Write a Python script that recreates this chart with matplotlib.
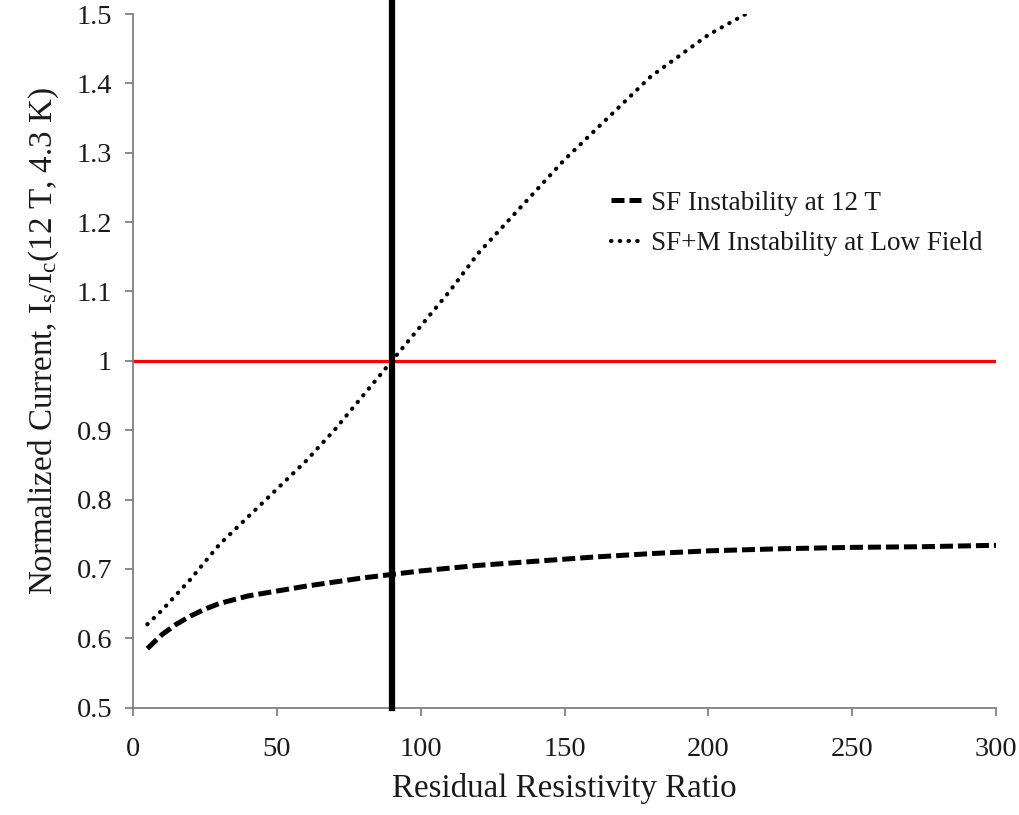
import matplotlib
matplotlib.use("Agg")
import matplotlib.pyplot as plt
from matplotlib.ticker import FuncFormatter, MultipleLocator

plt.rcParams['font.family'] = ['Liberation Serif', 'DejaVu Serif']
plt.rcParams['mathtext.fontset'] = 'custom'
plt.rcParams['mathtext.rm'] = 'Liberation Serif'
plt.rcParams['mathtext.it'] = 'Liberation Serif:italic'

# Data
rrr_sf = [5, 10, 15, 20, 25, 30, 40, 50, 60, 70, 80, 90, 100, 120, 140, 160, 180, 200, 225, 250, 275, 300]
sf_12T = [0.585, 0.605, 0.620, 0.632, 0.642, 0.650, 0.661, 0.668, 0.675, 0.681, 0.687, 0.692, 0.697,
          0.705, 0.711, 0.717, 0.722, 0.726, 0.729, 0.731, 0.732, 0.734]
rrr_sfm = [5, 10, 20, 30, 40, 50, 60, 70, 80, 90, 100, 110, 120, 130, 140, 150, 160, 170, 180, 190, 200, 213]
sfm_low = [0.620, 0.640, 0.685, 0.735, 0.775, 0.815, 0.855, 0.900, 0.950, 1.000, 1.050, 1.100, 1.155,
           1.200, 1.245, 1.290, 1.330, 1.370, 1.410, 1.440, 1.470, 1.500]
rrr_limit = 90
current_limit = 1.0
legend_labels = ["SF Instability at 12 T", "SF+M Instability at Low Field"]

fig = plt.figure(figsize=(10.19, 8.15), dpi=100)
ax = fig.add_axes([0.1305, 0.1318, 0.847, 0.851])

ax.plot(rrr_sf, sf_12T, color='black', lw=3.6, linestyle=(0, (2.6, 1.0)), label=legend_labels[0], zorder=3)
ax.plot(rrr_sfm, sfm_low, color='black', lw=3.0, linestyle=(0, (0.1, 2.0)), dash_capstyle='round',
        label=legend_labels[1], zorder=3)
ax.axhline(current_limit, color='#ff0000', lw=2.3, zorder=2)
ax.axvline(rrr_limit, ymin=0, ymax=1.03, color='black', lw=4.5, zorder=4, clip_on=False)

ax.set_xlim(0, 300)
ax.set_ylim(0.5, 1.5)
ax.xaxis.set_major_locator(MultipleLocator(50))
ax.yaxis.set_major_locator(MultipleLocator(0.1))
ax.yaxis.set_major_formatter(FuncFormatter(lambda v, p: '{:g}'.format(round(v, 2))))

for s in ['top', 'right']:
    ax.spines[s].set_visible(False)
for s in ['left', 'bottom']:
    ax.spines[s].set_color('#808080')
    ax.spines[s].set_linewidth(1.3)
ax.tick_params(axis='both', direction='out', length=6, width=1.3, color='#808080',
               labelsize=20.5, labelcolor='#1a1a1a')
ax.tick_params(axis='y', pad=9)
ax.tick_params(axis='x', pad=15)

ax.set_xlabel("Residual Resistivity Ratio", fontsize=23.8, labelpad=8, color='#1a1a1a')
ax.set_ylabel(r"Normalized Current, I$_\mathregular{s}$/I$_\mathregular{c}$(12 T, 4.3 K)",
              fontsize=23.8, color='#1a1a1a')
ax.yaxis.set_label_coords(-0.083, 0.528)

leg = ax.legend(loc='upper left', bbox_to_anchor=(0.526, 0.780), frameon=False, fontsize=19.5,
                handlelength=1.1, handletextpad=0.37, labelspacing=0.56)
for t in leg.get_texts():
    t.set_color('#1a1a1a')

fig.savefig("out.png", dpi=100)
